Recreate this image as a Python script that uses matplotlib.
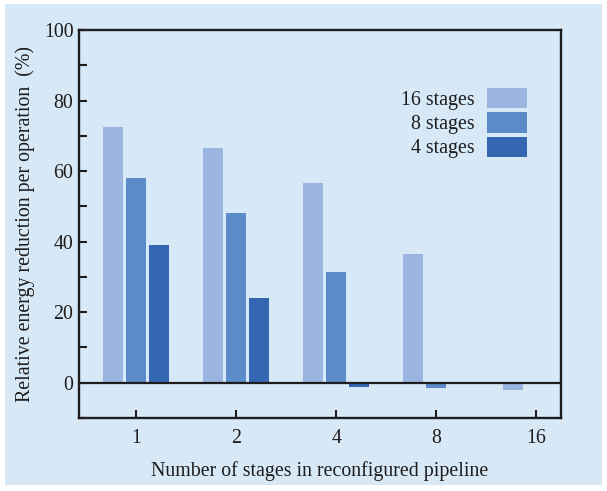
"""Relative energy reduction per operation vs. reconfigured pipeline depth."""

import matplotlib

matplotlib.use("Agg")

import matplotlib.pyplot as plt
import numpy as np
from matplotlib.patches import Patch, Rectangle
from matplotlib.ticker import MultipleLocator

# Data
categories = ["1", "2", "4", "8", "16"]
series_labels = ["16 stages", "8 stages", "4 stages"]
stages_16 = [72.5, 66.5, 56.5, 36.5, -2.1]
stages_8 = [58.0, 48.0, 31.4, -1.6, np.nan]
stages_4 = [39.0, 24.0, -1.3, np.nan, np.nan]

BG_COLOR = "#D7E9F6"
COLORS = ["#9AB5DF", "#5B8BC9", "#3466B2"]
INK = "#1E1C1C"

plt.rcParams["font.family"] = ["Liberation Serif", "DejaVu Serif"]
plt.rcParams["font.size"] = 14.3

fig = plt.figure(figsize=(6.07, 4.91), dpi=100, facecolor="white")
# light blue panel with a thin white margin
fig.patches.append(
    Rectangle((5 / 607, 6 / 491), 597 / 607, 481 / 491,
              transform=fig.transFigure, facecolor=BG_COLOR, edgecolor="none", zorder=-5)
)

ax = fig.add_axes([79 / 607, 1 - 418 / 491, 482 / 607, 388 / 491])
ax.set_zorder(2)
ax.set_facecolor(BG_COLOR)

x = np.arange(len(categories))
width = 0.2
offset = 0.23
series = [stages_16, stages_8, stages_4]
for i, (vals, color) in enumerate(zip(series, COLORS)):
    ax.bar(x + (i - 1) * offset, vals, width, color=color, edgecolor="none", zorder=2)

ax.axhline(0, color=INK, linewidth=1.6, zorder=3)

ax.set_xlim(-0.568, 4.246)
ax.set_ylim(-10, 100)
ax.set_xticks(x)
ax.set_xticklabels(categories)
ax.yaxis.set_major_locator(MultipleLocator(20))
ax.yaxis.set_minor_locator(MultipleLocator(10))
ax.set_yticks(range(0, 101, 20))
ax.tick_params(axis="both", which="both", direction="in", length=6, width=1.5,
               color=INK, labelcolor=INK, top=False, right=False)
ax.tick_params(axis="x", pad=8)
ax.tick_params(axis="y", pad=4)
for spine in ax.spines.values():
    spine.set_linewidth(1.7)
    spine.set_color(INK)

ax.set_xlabel("Number of stages in reconfigured pipeline", color=INK, labelpad=9)
ax.set_ylabel("Relative energy reduction per operation  (%)", color=INK, labelpad=6)

handles = [Patch(facecolor=c, edgecolor="none") for c in COLORS]
ax.legend(
    handles, series_labels,
    loc="upper right", bbox_to_anchor=(0.929, 0.8505),
    frameon=False, markerfirst=False, borderpad=0, borderaxespad=0,
    handlelength=2.0, handleheight=1.2, handletextpad=0.65, labelspacing=0.12,
    fontsize=14.3, labelcolor=INK,
)

fig.savefig("out.png", dpi=100, facecolor=fig.get_facecolor())
